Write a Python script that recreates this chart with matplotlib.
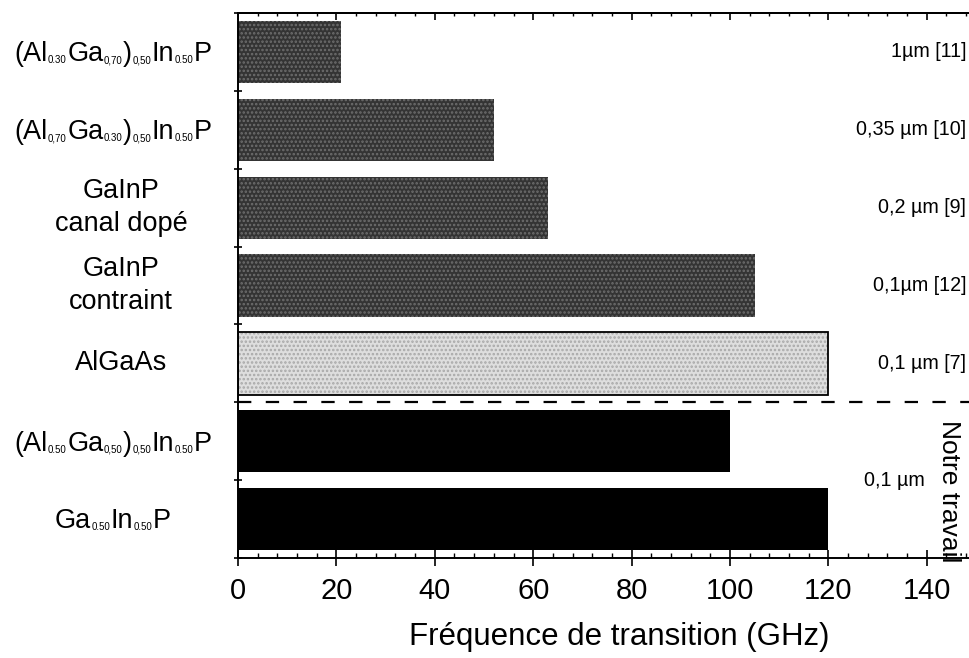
import re
import matplotlib
matplotlib.use("Agg")
import matplotlib.pyplot as plt
from matplotlib.ticker import MultipleLocator, NullFormatter, FixedLocator

plt.rcParams['font.family'] = ['Liberation Sans', 'DejaVu Sans']
plt.rcParams['hatch.linewidth'] = 1.2

# Materials, top to bottom ("_{..}" marks a subscript)
materials = [
    "(Al_{0.30}Ga_{0,70})_{0,50}In_{0.50}P",
    "(Al_{0,70}Ga_{0.30})_{0,50}In_{0.50}P",
    "GaInP\ncanal dopé",
    "GaInP\ncontraint",
    "AlGaAs",
    "(Al_{0.50}Ga_{0,50})_{0,50}In_{0.50}P",
    "Ga_{0.50}In_{0.50}P",
]
# Transition frequency fT (GHz)
freq_ghz = [21, 52, 63, 105, 120, 100, 120]
# Gate length and reference for the literature devices
gate_refs = ["1µm [11]", "0,35 µm [10]", "0,2 µm [9]", "0,1µm [12]", "0,1 µm [7]"]
own_gate = "0,1 µm"
own_label = "Notre travail"
bar_faces = ["#343434", "#343434", "#343434", "#343434", "#dedede", "black", "black"]
bar_grain = ["#6e6e6e", "#6e6e6e", "#6e6e6e", "#6e6e6e", "#a8a8a8", "black", "black"]
bar_outline = [False, False, False, False, True, False, False]
x_major = [0, 20, 40, 60, 80, 100, 120, 140]
x_label = "Fréquence de transition (GHz)"

W, H = 970, 658
fig = plt.figure(figsize=(W / 100, H / 100), dpi=100)
x0_px, x1_px, y_top_px, y_bot_px = 238, 970, 13, 558
ax = fig.add_axes([x0_px / W, 1 - y_bot_px / H, (x1_px - x0_px) / W, (y_bot_px - y_top_px) / H])
px_per_unit = 4.92
ax.set_xlim(0, (x1_px - x0_px) / px_per_unit)
n = len(materials)
ax.set_ylim(n - 0.5, -0.5)

ypos = list(range(n))
# grainy fill: face colour with a fine dot hatch
for y, v, fc, gc in zip(ypos, freq_ghz, bar_faces, bar_grain):
    hatch = "...." if fc != "black" else None
    ax.barh(y, v, height=0.8, color=fc, edgecolor=gc, linewidth=0, hatch=hatch, zorder=2)
# outlined bars
for y, v, o in zip(ypos, freq_ghz, bar_outline):
    if o:
        ax.barh(y, v, height=0.8, fill=False, edgecolor="black", linewidth=1.3, zorder=2.5)

# separator between literature results and this work
ax.axhline(4.5, color="black", lw=1.6, dashes=(6, 6.5), zorder=3)

for s in ["top", "bottom", "left"]:
    ax.spines[s].set_linewidth(1.4)
ax.spines["right"].set_visible(False)

ax.xaxis.set_major_locator(FixedLocator(x_major))
ax.xaxis.set_minor_locator(MultipleLocator(4))
ax.tick_params(axis="x", which="major", direction="inout", length=12, width=1.2,
               labelsize=21, pad=7.5, top=False)
ax.tick_params(axis="x", which="minor", direction="in", length=3.5, width=1.0, top=False)

ax.yaxis.set_major_locator(FixedLocator([i - 0.5 for i in range(n + 1)]))
ax.yaxis.set_major_formatter(NullFormatter())
ax.tick_params(axis="y", which="major", direction="inout", length=6, width=1.2)

top = ax.secondary_xaxis("top")
top.xaxis.set_major_locator(FixedLocator(x_major))
top.xaxis.set_minor_locator(MultipleLocator(4))
top.xaxis.set_major_formatter(NullFormatter())
top.tick_params(which="major", direction="in", length=5, width=1.2)
top.tick_params(which="minor", direction="in", length=2.5, width=1.0)
top.spines["top"].set_linewidth(1.4)

# right-hand annotations
x_ref = 148.0
for i, t in enumerate(gate_refs):
    ax.text(x_ref, i, t, ha="right", va="center", fontsize=14.2)
ax.text(139.6, 5.5, own_gate, ha="right", va="center", fontsize=14.2)
ax.text(144.6, 5.64, own_label, ha="center", va="center", rotation=270, fontsize=19)

fig.text(619 / W, 1 - 645 / H, x_label, ha="center", va="baseline", fontsize=22.5)

# category labels on the left
BIG, SMALL = 19.5, 7.0
groups = []
for i, lab in enumerate(materials):
    if "_{" not in lab:
        ax.annotate(lab, xy=(121, i), xycoords=("figure pixels", "data"),
                    ha="center", va="center", fontsize=BIG, linespacing=1.38,
                    multialignment="center", annotation_clip=False)
        continue
    parts = [p for p in re.split(r"(_\{[^}]*\})", lab) if p]
    pieces = []
    prev = None
    for p in parts:
        sub = p.startswith("_{")
        txt = p[2:-1] if sub else p
        fs = SMALL if sub else BIG
        if prev is None:
            a = ax.annotate(txt, xy=(0, i + 0.12), xycoords=("figure pixels", "data"),
                            ha="left", va="baseline", fontsize=fs, annotation_clip=False)
        else:
            a = ax.annotate(txt, xy=(1, i + 0.12), xycoords=(prev, "data"),
                            xytext=(0.3, -1.5 if sub else 0), textcoords="offset points",
                            ha="left", va="baseline", fontsize=fs, annotation_clip=False)
        pieces.append(a)
        prev = a
    groups.append((i, pieces))

fig.canvas.draw()
renderer = fig.canvas.get_renderer()
for i, pieces in groups:
    exts = [p.get_window_extent(renderer) for p in pieces]
    width = max(e.x1 for e in exts) - min(e.x0 for e in exts)
    new_xy = (113 - width / 2, i + 0.12)
    pieces[0].xy = new_xy
    pieces[0].xyann = new_xy

fig.savefig("out.png", dpi=100)
